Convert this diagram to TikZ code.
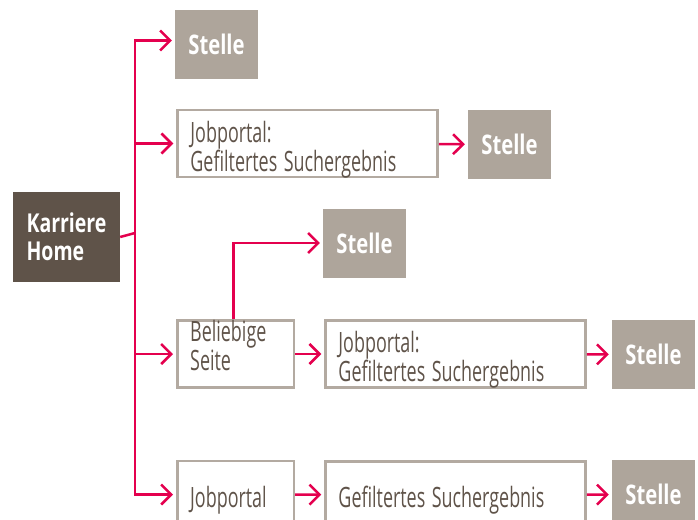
\documentclass[tikz,border=0pt]{standalone}
\usepackage{fontspec}
\setmainfont{Open Sans}[FakeStretch=0.64,
  BoldFeatures={FakeStretch=0.75}]
\usetikzlibrary{arrows.meta}
\definecolor{homebrown}{HTML}{5F5349}
\definecolor{stellegray}{HTML}{AEA59B}
\definecolor{framegray}{HTML}{B3AAA1}
\definecolor{linkred}{HTML}{E4004E}
\newcommand\pagefont{\fontsize{28}{25}\selectfont\spaceskip=6.5pt\relax}
\begin{document}
\begin{tikzpicture}[x=1pt,y=-1pt,
  home/.style={fill=homebrown,text=white,font=\bfseries\fontsize{26}{28}\selectfont,
    align=left,minimum width=107pt,minimum height=90pt,inner sep=0pt},
  stelle/.style={fill=stellegray,text=white,font=\bfseries\fontsize{27}{30}\selectfont,
    minimum width=83pt,minimum height=69pt,inner sep=0pt},
  page/.style={draw=framegray,line width=2.5pt,minimum height=67pt,inner sep=0pt},
  wide/.style={page,minimum width=260pt},
  narrow/.style={page,minimum width=116.5pt},
  pagetext/.style={text=homebrown,font=\pagefont,
    align=left,inner sep=0pt,anchor=north west},
  wire/.style={draw=linkred,line width=2.5pt},
  link/.style={wire,-{Straight Barb[length=10pt,width=20pt]},shorten >=3pt}]
\useasboundingbox (0,0) rectangle (698,519);
\clip (0,0) rectangle (698,519);
% left column
\node[home] (home) at (66.5,237) {Karriere\\Home};
\coordinate (split) at (135,233);
\node[stelle] (stelle1) at (216.5,44.5) {Stelle};
\node[wide] (job1) at (307.5,143.5) {};
\node[pagetext] (job1text) at ([shift={(14,12)}]job1.north west)
  {Jobportal:\\Gefiltertes Suchergebnis};
\node[stelle] (stelle2) at (509.5,144.5) {Stelle};
% any page
\node[narrow] (seite) at (235.5,354) {};
\node[pagetext,font=\fontsize{28}{29}\selectfont] (seitetext)
  at ([shift={(14,1)}]seite.north west) {Beliebige\\Seite};
\node[stelle] (stelle3) at (364.5,243) {Stelle};
\node[wide] (job2) at (455.5,354) {};
\node[pagetext] (job2text) at ([shift={(14,12)}]job2.north west)
  {Jobportal:\\Gefiltertes Suchergebnis};
\node[stelle] (stelle4) at (653.5,354.5) {Stelle};
% bottom row
\node[narrow] (job3) at (235.5,494.5) {};
\node[pagetext] (job3text) at ([shift={(14,26)}]job3.north west) {Jobportal};
\node[wide] (such) at (455.5,495) {};
\node[pagetext] (suchtext) at ([shift={(14,26)}]such.north west)
  {Gefiltertes Suchergebnis};
\node[stelle] (stelle5) at (653.5,494.5) {Stelle};
% connectors
\draw[wire] (home.east) -- (split);
\draw[link] (split) |- ([yshift=4pt]stelle1.west);
\draw[link] (split) |- (job1.west);
\draw[link] (split) |- (seite.west);
\draw[link] (split) |- (job3.west);
\draw[link] (job1) -- (stelle2);
\draw[link] ([xshift=-2pt]seite.north) |- (stelle3.west);
\draw[link] (seite) -- (job2);
\draw[link] (job2) -- (stelle4);
\draw[link] (job3) -- (such);
\draw[link] (such) -- (stelle5);
\end{tikzpicture}
\end{document}
